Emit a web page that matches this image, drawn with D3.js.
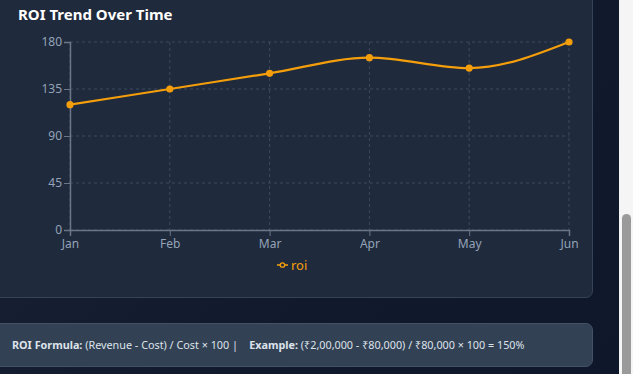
<!DOCTYPE html>
<html><head><meta charset="utf-8">
<script src="https://cdn.jsdelivr.net/npm/d3@7"></script>
<style>
html,body{margin:0;padding:0;width:633px;height:374px;overflow:hidden;}
body{background:linear-gradient(135deg,#1a2436 0%,#111a2d 60%,#0f172a 100%);font-family:"Noto Sans","Open Sans",sans-serif;position:relative;}
#card{position:absolute;left:-10px;top:-20px;width:601px;height:316px;background:#1f2a3c;border:1px solid #354257;border-radius:7px;}
#title{position:absolute;left:18px;top:4px;color:#fff;font-weight:700;font-size:15px;}
#foot{position:absolute;left:-10px;top:323px;width:601px;height:42px;background:#334155;border:1px solid #435066;border-radius:7px;}
#foottxt{position:absolute;left:12px;top:337px;color:#dde3ea;font-size:10.8px;white-space:pre;}
#foottxt b{font-weight:700;}
#track{position:absolute;left:619px;top:0;width:14px;height:374px;background:#f5f5f5;}
#thumb{position:absolute;left:622px;top:214px;width:9px;height:170px;background:#9a9a9a;border-radius:5px;}
svg{position:absolute;left:0;top:0;}
</style></head><body>
<div id="card"></div>
<div id="title">ROI Trend Over Time</div>
<div id="foot"></div>
<div id="foottxt"><b>ROI Formula:</b> (Revenue - Cost) / Cost × 100 |    <b>Example:</b> (₹2,00,000 - ₹80,000) / ₹80,000 × 100 = 150%</div>
<div id="track"></div><div id="thumb"></div>
<svg id="chart" width="600" height="300"></svg>
<script>
const months = ["Jan","Feb","Mar","Apr","May","Jun"];
const roi = [120,135,150,165,155,180];
const yTicks = [0,45,90,135,180];
const seriesName = "roi";

const svg = d3.select("#chart");
const x = d3.scalePoint().domain(months).range([70,569]);
const y = d3.scaleLinear().domain([0,180]).range([230,42]);
const gridColor = "#3d4a5e", axisColor = "#6b7688", tickColor = "#94a3b8", orange = "#f59e0b";

const g = svg.append("g");
g.selectAll(".hg").data(yTicks).join("line")
  .attr("x1",70).attr("x2",569).attr("y1",d=>y(d)).attr("y2",d=>y(d))
  .attr("stroke",gridColor).attr("stroke-dasharray","3 3");
g.selectAll(".vg").data(months).join("line")
  .attr("x1",d=>x(d)).attr("x2",d=>x(d)).attr("y1",42).attr("y2",230)
  .attr("stroke",gridColor).attr("stroke-dasharray","3 3");

const xa = svg.append("g").attr("transform","translate(0,230)")
  .call(d3.axisBottom(x).tickSize(6).tickPadding(3));
const ya = svg.append("g").attr("transform","translate(70,0)")
  .call(d3.axisLeft(y).tickValues(yTicks).tickSize(6).tickPadding(2));
[xa,ya].forEach(a=>{
  a.select(".domain").attr("stroke",axisColor).attr("stroke-width",1.5);
  a.selectAll(".tick line").attr("stroke",axisColor);
  a.selectAll(".tick text").attr("fill",tickColor).style("font-size","12px").style("font-family","'Noto Sans',sans-serif");
});

const data = months.map((m,i)=>({m,v:roi[i]}));
svg.append("path").datum(data)
  .attr("d",d3.line().x(d=>x(d.m)).y(d=>y(d.v)).curve(d3.curveMonotoneX))
  .attr("fill","none").attr("stroke",orange).attr("stroke-width",2.2);
svg.selectAll(".pt").data(data).join("circle")
  .attr("cx",d=>x(d.m)).attr("cy",d=>y(d.v)).attr("r",3.6).attr("fill",orange);

const lg = svg.append("g").attr("transform","translate(277,265)");
lg.append("line").attr("x1",0).attr("x2",11).attr("y1",0).attr("y2",0).attr("stroke",orange).attr("stroke-width",1.5);
lg.append("circle").attr("cx",5.5).attr("cy",0).attr("r",2.2).attr("fill","#1f2a3c").attr("stroke",orange).attr("stroke-width",1.3);
lg.append("text").attr("x",14).attr("y",4.5).text(seriesName).attr("fill",orange).style("font-size","13px").style("font-family","'Noto Sans',sans-serif");
</script>
</body></html>
